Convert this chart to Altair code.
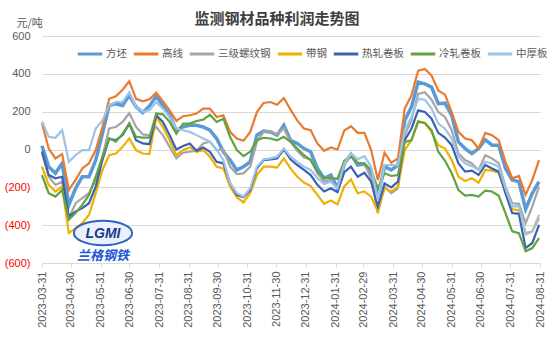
import altair as alt
import pandas as pd

# ---------------- data ----------------
dates = [d.strftime("%Y-%m-%d") for d in pd.date_range("2023-03-31", periods=75, freq="7D")]

series_names = ["方坯", "高线", "三级螺纹钢", "带钢", "热轧卷板", "冷轧卷板", "中厚板"]
series_colors = ["#5B9BD5", "#E97A30", "#A5A5A5", "#F0B000", "#3A62B0", "#62A33F", "#9DC3E6"]

fangpi = [20, -91, -126, -73, -293, -205, -144, -144, -56, 84,
          233, 242, 233, 286, 225, 195, 230, 281, 233, 181,
          102, 120, 128, 128, 119, 102, 58, -12, -56, -108,
          -91, -65, 76, 97, 93, 76, 128, 49, 32, 5,
          -12, -100, -152, -135, -205, -75, -26, -82, -77, -126,
          -249, -91, -108, -82, 154, 224, 356, 347, 330, 242,
          245, 180, 40, 5, -21, 5, 52, 23, 23, -100,
          -161, -170, -315, -231, -170]
gaoxian = [137, 5, -47, -24, -214, -161, -100, -73, -3, 119,
           268, 281, 316, 361, 268, 255, 265, 300, 256, 207,
           151, 176, 181, 190, 216, 216, 172, 181, 93, 58,
           46, 93, 198, 246, 251, 237, 272, 211, 154, 111,
           102, 32, -7, 11, 0, 100, 123, 88, 88, -3,
           -161, -17, -70, -47, 216, 286, 417, 426, 391, 312,
           290, 198, 93, 58, 49, 5, 88, 75, 49, -65,
           -152, -140, -240, -161, -56]
sanji = [-20, -144, -187, -170, -363, -284, -257, -231, -161, -38,
         111, 119, 146, 193, 119, 80, 75, 119, 76, 14,
         -47, -17, -12, -7, 32, 41, -3, 0, -91, -130,
         -126, -91, 41, 93, 97, 81, 111, 41, -7, -42,
         -52, -126, -170, -161, -152, -73, -35, -70, -74, -152,
         -336, -196, -231, -205, 75, 154, 294, 303, 263, 198,
         172, 102, -21, -56, -74, -108, -30, -47, -74, -196,
         -284, -287, -389, -301, -196]
daigang = [-91, -187, -222, -196, -442, -415, -389, -345, -231, -108,
           -30, -21, 14, 58, -3, -21, -24, 172, 119, 49,
           -30, -3, 11, -12, -3, -38, -91, -100, -196, -252,
           -280, -231, -135, -91, -91, -96, -47, -100, -144, -175,
           -193, -240, -287, -270, -290, -195, -158, -231, -222, -249,
           -328, -205, -222, -196, -3, 49, 145, 140, 93, 23,
           5, -56, -144, -166, -152, -175, -108, -112, -123, -222,
           -315, -322, -442, -433, -363]
rezha = [-10, -135, -152, -144, -354, -328, -310, -284, -196, -56,
         58, 49, 76, 137, 49, 32, 28, 181, 146, 76,
         0, 18, 32, -7, 11, -12, -65, -73, -178, -240,
         -252, -214, -100, -56, -52, -47, 0, -52, -82, -108,
         -135, -187, -222, -205, -225, -120, -91, -144, -123, -170,
         -301, -179, -200, -170, 49, 110, 207, 198, 163, 88,
         63, 23, -74, -117, -112, -135, -82, -100, -117, -231,
         -336, -340, -521, -494, -398]
lengzha = [-135, -231, -249, -214, -371, -336, -293, -240, -144, -38,
           58, 41, 84, 137, 67, 63, 63, 190, 186, 146,
           84, 137, 137, 151, 158, 184, 146, 163, 67, -3,
           -35, -12, 49, 62, 58, 49, 67, 41, 5, -30,
           -56, -117, -152, -152, -155, -60, -38, -70, -74, -108,
           -205, -126, -140, -135, 40, 49, 149, 140, 102, -12,
           -60, -126, -214, -244, -240, -249, -217, -222, -245, -336,
           -433, -442, -538, -521, -468]
zhonghou = [149, 67, 62, 102, -65, -30, -3, -3, 111, 154,
            233, 251, 251, 303, 225, 200, 207, 251, 216, 172,
            111, 102, 93, 76, 58, 41, 0, -56, -178, -231,
            -249, -205, -91, -52, -47, -38, 5, -38, -65, -91,
            -108, -152, -182, -170, -205, -75, -21, -52, -35, -91,
            -266, -82, -82, -82, 102, 172, 268, 263, 216, 137,
            110, 58, -38, -74, -88, -108, -65, -74, -91, -205,
            -301, -301, -450, -433, -345]

tick_dates = [(2023, 3, 31), (2023, 4, 30), (2023, 5, 31), (2023, 6, 30), (2023, 7, 31),
              (2023, 8, 31), (2023, 9, 30), (2023, 10, 31), (2023, 11, 30), (2023, 12, 31),
              (2024, 1, 31), (2024, 2, 29), (2024, 3, 31), (2024, 4, 30), (2024, 5, 31),
              (2024, 6, 30), (2024, 7, 31), (2024, 8, 31)]
y_ticks = [-600, -400, -200, 0, 200, 400, 600]

title_text = "监测钢材品种利润走势图"
unit_text = "元/吨"
logo_en = "LGMI"
logo_cn = "兰格钢铁"

# ---------------- table ----------------
all_vals = [fangpi, gaoxian, sanji, daigang, rezha, lengzha, zhonghou]
rows = []
for name, vals in zip(series_names, all_vals):
    for d, v in zip(dates, vals):
        rows.append({"date": d, "series": name, "value": v})
df = pd.DataFrame(rows)

CN = "Noto Sans CJK SC"
NUM = "Liberation Sans"
GRAY = "#595959"

def dt(t):
    return alt.DateTime(year=t[0], month=t[1], date=t[2], utc=True)

x_enc = alt.X(
    "date:T",
    scale=alt.Scale(type="utc", domain=[dt(tick_dates[0]), dt(tick_dates[-1])]),
    axis=alt.Axis(
        values=[dt(t) for t in tick_dates],
        labelExpr="utcFormat(datum.value, '%Y-%m-%d')",
        labelAngle=-90, labelAlign="right", labelBaseline="middle",
        labelFont=NUM, labelFontSize=11, labelColor=GRAY, labelPadding=4,
        grid=False, domainColor="#D9D9D9", tickColor="#D9D9D9", tickSize=4,
        labelOverlap=False, labelFlush=False,
    ),
    title=None,
)
y_enc = alt.Y(
    "value:Q",
    scale=alt.Scale(domain=[-600, 600], nice=False, zero=False),
    axis=alt.Axis(
        values=y_ticks,
        labelExpr="datum.value < 0 ? '(' + format(-datum.value, 'd') + ')' : format(datum.value, 'd')",
        labelColor=alt.ExprRef("datum.value < 0 ? '#FF0000' : '#595959'"),
        labelFont=NUM, labelFontSize=11, labelPadding=12,
        grid=True, gridColor="#D9D9D9", domain=False, ticks=False,
        title=unit_text, titleAngle=0, titleAlign="left", titleBaseline="middle",
        titleX=-26, titleY=-13, titleFont=CN, titleFontSize=11,
        titleFontWeight="normal", titleColor=GRAY,
    ),
)
color_enc = alt.Color(
    "series:N",
    scale=alt.Scale(domain=series_names, range=series_colors),
    sort=series_names,
    legend=alt.Legend(
        title=None, orient="none", legendX=34, legendY=4, direction="horizontal",
        columns=7, symbolType="stroke", symbolSize=600, symbolStrokeWidth=3,
        labelFont=CN, labelFontSize=10.5, labelColor=GRAY, labelOffset=2,
        columnPadding=0, padding=0, symbolOffset=0,
    ),
)

base = alt.Chart(df)
thick = base.transform_filter(alt.datum.series == series_names[0]).mark_line(
    strokeWidth=3.5, interpolate="linear"
).encode(x=x_enc, y=y_enc, color=color_enc)
thin = base.transform_filter(alt.datum.series != series_names[0]).mark_line(
    strokeWidth=2.2, interpolate="linear"
).encode(x=x_enc, y=y_enc, color=color_enc, detail="series:N")

title_mark = alt.Chart(pd.DataFrame({"t": [title_text]})).mark_text(
    font=CN, fontSize=15, fontWeight="bold", color="#404040", baseline="middle",
).encode(text="t:N", x=alt.value(235), y=alt.value(-17))

logo_oval = alt.Chart(pd.DataFrame({"a": [0]})).mark_point(
    shape="M -1 0 A 1 0.42 0 1 0 1 0 A 1 0.42 0 1 0 -1 0 Z",
    filled=True, fill="#EAF1FB", stroke="#2F62C0", strokeWidth=2, opacity=1, size=3400,
).encode(x=alt.value(61), y=alt.value(197))
logo_t1 = alt.Chart(pd.DataFrame({"t": [logo_en]})).mark_text(
    font=NUM, fontSize=14, fontWeight="bold", fontStyle="italic", color="#1C3A85",
).encode(text="t:N", x=alt.value(61), y=alt.value(198))
logo_t2 = alt.Chart(pd.DataFrame({"t": [logo_cn]})).mark_text(
    font=CN, fontSize=13, fontWeight="bold", fontStyle="italic", color="#2357D6",
).encode(text="t:N", x=alt.value(61), y=alt.value(220))

chart = alt.layer(thick, thin, logo_oval, logo_t1, logo_t2, title_mark).properties(
    width=498, height=227,
    autosize=alt.AutoSizeParams(type="none"),
    padding={"left": 42, "top": 36, "right": 14, "bottom": 75},
    background="white",
).configure_view(stroke=None)

chart.save("out.html", embed_options={"renderer": "svg", "actions": False})
